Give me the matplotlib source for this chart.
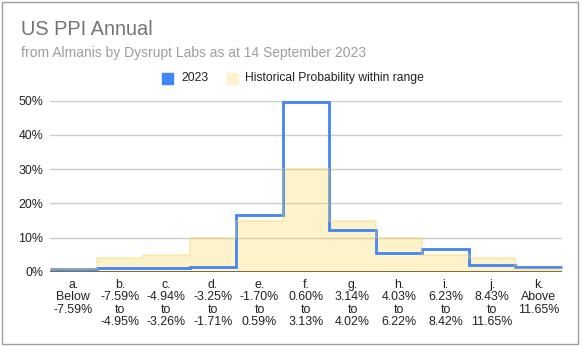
import numpy as np
import matplotlib
matplotlib.use("Agg")
from matplotlib import pyplot as plt
from matplotlib.patches import Rectangle

plt.rcParams['font.family'] = ['Liberation Sans', 'DejaVu Sans']

# ranges of the annual PPI change
categories = ["a.\nBelow\n-7.59%", "b.\n-7.59%\nto\n-4.95%", "c.\n-4.94%\nto\n-3.26%",
              "d.\n-3.25%\nto\n-1.71%", "e.\n-1.70%\nto\n0.59%", "f.\n0.60%\nto\n3.13%",
              "g.\n3.14%\nto\n4.02%", "h.\n4.03%\nto\n6.22%", "i.\n6.23%\nto\n8.42%",
              "j.\n8.43%\nto\n11.65%", "k.\nAbove\n11.65%"]
forecast_2023 = [1.0, 1.2, 1.3, 1.6, 16.5, 49.7, 12.3, 5.4, 6.7, 1.9, 1.6]
historical = [1, 4, 5, 10, 15, 30, 15, 10, 5, 4, 1]
yticks = [0, 10, 20, 30, 40, 50]

W, H = 582, 346
fig = plt.figure(figsize=(W / 100, H / 100), dpi=100)

# plot area in pixels: x 50..562, y 100.7..272
ax = fig.add_axes([50 / W, 1 - 272 / H, 512 / W, (272 - 100.7) / H])

edges = np.arange(len(categories) + 1)
ax.stairs(historical, edges, fill=True, color='#fbd44c', alpha=0.3,
          linewidth=0, zorder=2)
ax.stairs(forecast_2023, edges, baseline=None, color='#4285f4', linewidth=2,
          zorder=3, clip_on=False)
ax.stairs(historical, edges, baseline=None, color='#f6d36a', alpha=0.35,
          linewidth=1.5, zorder=4)

ax.set_xlim(0, len(categories))
ax.set_ylim(0, 50)
for t in yticks[1:]:
    ax.axhline(t, color='#cccccc', linewidth=1, zorder=1)
ax.axhline(0, color='#6f5f33', linewidth=1.3, zorder=5)

ax.set_yticks(yticks)
ax.set_yticklabels([f"{t}%" for t in yticks], fontsize=8.9, color='#222222')
ax.set_xticks(edges[:-1] + 0.5)
ax.set_xticklabels(categories, fontsize=8.9, color='#222222', linespacing=1.05)
ax.tick_params(axis='y', length=0, pad=4.8)
ax.tick_params(axis='x', length=0, pad=5)
for s in ax.spines.values():
    s.set_visible(False)

# titles
fig.text(20.7 / W, 1 - 35 / H, "US PPI Annual", fontsize=14.4, color='#757575',
         va='baseline')
fig.text(20.7 / W, 1 - 56.7 / H, "from Almanis by Dysrupt Labs as at 14 September 2023",
         fontsize=10, color='#9e9e9e', va='baseline')

# legend
fig.patches.append(Rectangle((162 / W, 1 - 83.5 / H), 11 / W, 11 / H,
                             transform=fig.transFigure, color='#4285f4'))
fig.patches.append(Rectangle((226.5 / W, 1 - 83.5 / H), 11 / W, 11 / H,
                             transform=fig.transFigure, color='#fef2cc'))
fig.text(181.7 / W, 1 - 78 / H, "2023", fontsize=8.7, color='#222222', va='center')
fig.text(245 / W, 1 - 78 / H, "Historical Probability within range", fontsize=8.7,
         color='#222222', va='center')

# outer frame
fig.patches.append(Rectangle((2 / W, 2 / H), 576 / W, 342 / H, transform=fig.transFigure,
                             fill=False, edgecolor='#9e9e9e', linewidth=1))

fig.savefig("out.png", dpi=100)
